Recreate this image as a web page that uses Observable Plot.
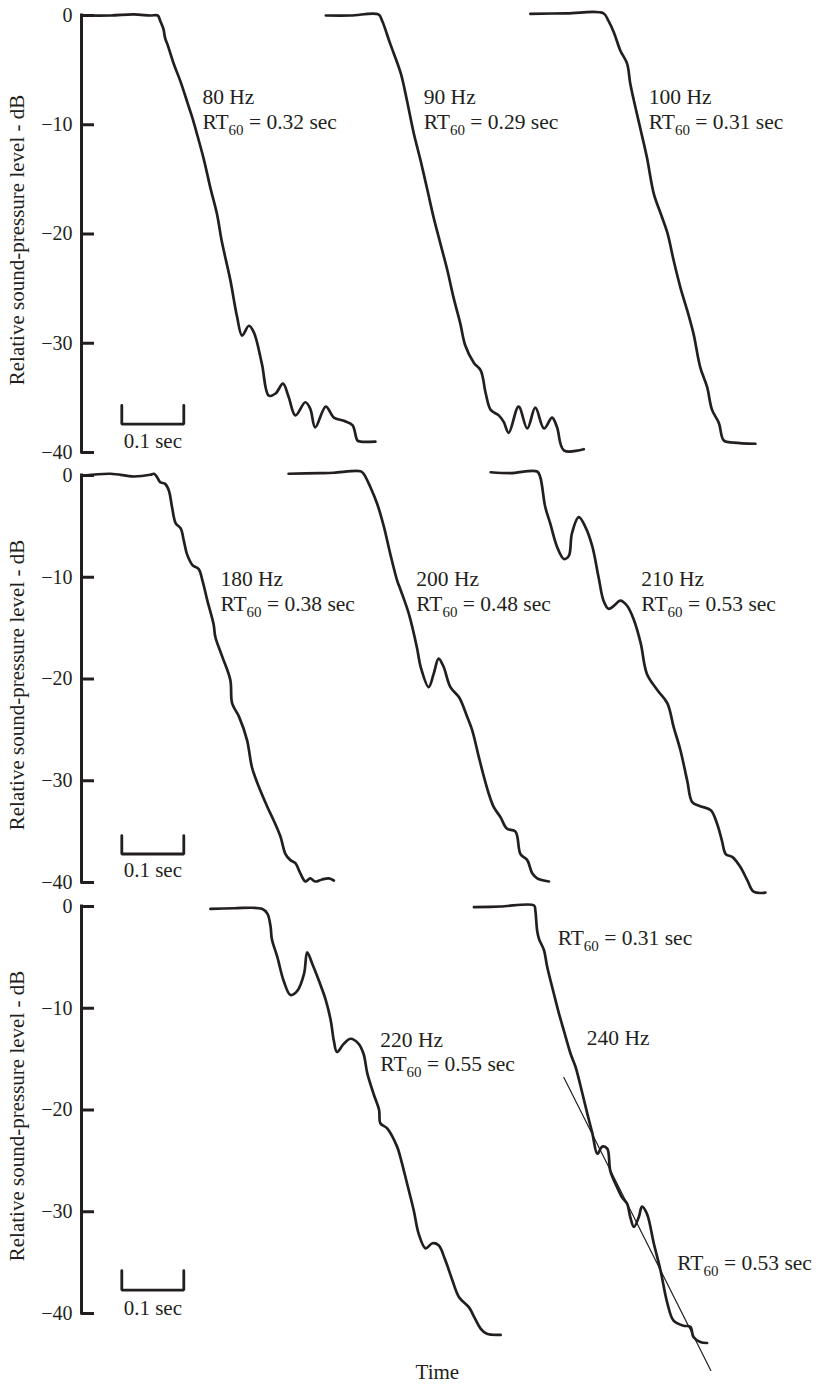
<!DOCTYPE html>
<html><head><meta charset="utf-8">
<script src="https://cdn.jsdelivr.net/npm/d3@7"></script>
<script src="https://cdn.jsdelivr.net/npm/@observablehq/plot@0.6"></script>
<style>
body{margin:0;background:#fff;}
#chart svg{display:block;}
</style></head><body><div id="chart"></div>
<script>
// ---- data (time in seconds, level in dB) ----
const yTicks = [0, -10, -20, -30, -40];
const yLabel = "Relative sound-pressure level - dB";
const xLabel = "Time";
const scaleBarLabel = "0.1 sec";
const scaleBarSpan = [0.065, 0.165];

const hz80 = [[0.003,0],[0.047,0],[0.084,0.1],[0.111,0],[0.123,0],[0.127,-0.5],[0.132,-1.2],[0.135,-2.1],[0.139,-2.7],[0.148,-4.3],[0.160,-6.1],[0.171,-8.0],[0.179,-9.4],[0.187,-11.0],[0.197,-13.1],[0.208,-15.8],[0.219,-18.3],[0.226,-20.6],[0.240,-24.2],[0.251,-27.6],[0.259,-29.3],[0.270,-28.4],[0.278,-29.0],[0.291,-31.9],[0.302,-34.8],[0.313,-34.6],[0.325,-33.7],[0.334,-34.9],[0.345,-36.6],[0.361,-35.4],[0.369,-36.0],[0.377,-37.7],[0.394,-35.8],[0.407,-36.8],[0.423,-37.1],[0.437,-37.5],[0.445,-38.9],[0.450,-39.0],[0.474,-39.0]];
const hz90 = [[0.394,0],[0.434,0],[0.479,0.1],[0.485,-0.5],[0.498,-2.6],[0.515,-5.3],[0.525,-7.8],[0.536,-10.8],[0.547,-13.3],[0.558,-16.0],[0.568,-18.5],[0.579,-20.9],[0.590,-23.3],[0.600,-25.8],[0.611,-28.2],[0.619,-30.2],[0.633,-31.8],[0.644,-32.5],[0.652,-34.6],[0.660,-36.1],[0.673,-36.6],[0.681,-37.2],[0.689,-38.2],[0.705,-35.8],[0.719,-37.8],[0.732,-35.9],[0.746,-37.8],[0.759,-36.8],[0.767,-37.7],[0.778,-39.8],[0.810,-39.7]];
const hz100 = [[0.724,0.15],[0.783,0.2],[0.842,0.2],[0.850,-0.5],[0.859,-1.6],[0.869,-3.2],[0.880,-4.4],[0.885,-6.2],[0.891,-7.8],[0.902,-10.5],[0.912,-13.0],[0.923,-16.3],[0.934,-18.1],[0.945,-19.9],[0.955,-22.4],[0.966,-24.9],[0.977,-27.0],[0.987,-29.1],[0.998,-32.2],[1.009,-34.0],[1.017,-36.1],[1.028,-37.3],[1.036,-38.9],[1.052,-39.1],[1.087,-39.2]];
const hz180 = [[0.004,0],[0.047,0.17],[0.084,-0.1],[0.111,0.07],[0.117,0.17],[0.122,-0.17],[0.127,-0.66],[0.135,-0.82],[0.141,-1.5],[0.146,-3.1],[0.152,-4.7],[0.160,-5.2],[0.165,-6.4],[0.170,-7.7],[0.179,-8.8],[0.189,-9.2],[0.195,-10.3],[0.203,-12.3],[0.213,-14.6],[0.216,-15.9],[0.227,-17.8],[0.240,-20.1],[0.243,-22.4],[0.254,-23.7],[0.267,-26.0],[0.275,-28.7],[0.286,-30.6],[0.300,-32.6],[0.310,-33.9],[0.321,-35.5],[0.329,-37.2],[0.337,-37.8],[0.345,-38.1],[0.353,-39.1],[0.361,-39.9],[0.369,-39.6],[0.377,-39.9],[0.388,-39.7],[0.399,-39.6],[0.407,-39.8]];
const hz200 = [[0.334,0.17],[0.385,0.23],[0.407,0.27],[0.450,0.42],[0.455,0.17],[0.466,-1.15],[0.477,-2.8],[0.488,-5.1],[0.498,-7.7],[0.509,-10.3],[0.515,-11.3],[0.528,-13.6],[0.541,-16.9],[0.547,-18.8],[0.560,-20.8],[0.568,-19.5],[0.576,-18.0],[0.584,-18.8],[0.595,-20.8],[0.609,-21.8],[0.622,-23.7],[0.630,-25.0],[0.641,-27.7],[0.649,-29.6],[0.657,-31.3],[0.665,-32.6],[0.676,-33.6],[0.686,-34.7],[0.700,-35.0],[0.708,-37.2],[0.719,-37.8],[0.727,-39.1],[0.735,-39.6],[0.754,-39.9]];
const hz210 = [[0.660,0.32],[0.692,0.23],[0.735,0.39],[0.740,-0.17],[0.748,-3.1],[0.756,-4.7],[0.767,-7.0],[0.778,-8.2],[0.786,-7.9],[0.791,-5.7],[0.802,-4.1],[0.813,-5.1],[0.824,-7.0],[0.834,-10.0],[0.842,-12.3],[0.850,-13.1],[0.859,-12.8],[0.869,-12.3],[0.880,-12.8],[0.891,-14.2],[0.902,-16.5],[0.912,-19.5],[0.929,-21.1],[0.945,-22.4],[0.955,-24.7],[0.966,-27.0],[0.977,-30.0],[0.985,-32.1],[0.998,-32.5],[1.015,-32.9],[1.025,-34.2],[1.033,-35.9],[1.039,-37.2],[1.050,-37.5],[1.063,-38.5],[1.074,-39.8],[1.084,-40.9],[1.103,-41.0]];
const hz220 = [[0.208,-0.23],[0.246,-0.17],[0.291,-0.23],[0.300,-0.72],[0.305,-2.0],[0.307,-3.2],[0.316,-5.0],[0.326,-7.3],[0.337,-8.7],[0.348,-8.3],[0.359,-6.6],[0.364,-4.5],[0.372,-5.6],[0.383,-7.3],[0.394,-9.2],[0.402,-11.2],[0.407,-13.2],[0.412,-14.3],[0.423,-13.5],[0.434,-13.0],[0.447,-13.5],[0.455,-14.5],[0.461,-16.4],[0.471,-18.4],[0.480,-20.0],[0.482,-21.3],[0.493,-21.8],[0.509,-23.6],[0.515,-24.8],[0.525,-27.2],[0.536,-29.9],[0.544,-32.2],[0.555,-33.6],[0.566,-33.1],[0.576,-33.3],[0.587,-34.8],[0.598,-36.7],[0.609,-38.4],[0.625,-39.4],[0.633,-40.3],[0.644,-41.5],[0.654,-42.0],[0.676,-42.1]];
const hz240 = [[0.633,-0.07],[0.676,0],[0.730,0.1],[0.732,-0.4],[0.735,-2.4],[0.738,-3.2],[0.746,-4.3],[0.751,-5.9],[0.762,-8.6],[0.770,-10.5],[0.778,-12.2],[0.789,-14.5],[0.797,-15.8],[0.808,-18.4],[0.816,-20.4],[0.824,-22.3],[0.832,-24.3],[0.840,-23.6],[0.848,-23.8],[0.853,-26.0],[0.864,-27.6],[0.872,-28.6],[0.880,-29.2],[0.885,-30.5],[0.891,-31.5],[0.899,-30.5],[0.904,-29.5],[0.912,-30.2],[0.923,-33.1],[0.934,-35.8],[0.945,-39.0],[0.955,-40.7],[0.971,-41.2],[0.982,-41.3],[0.987,-42.3],[0.998,-42.8],[1.009,-42.9]];
const fit240 = [[0.778,-16.8],[1.015,-45.6]];

const curves = [
  {name: "80 Hz", panel: 0, pts: hz80},
  {name: "90 Hz", panel: 0, pts: hz90},
  {name: "100 Hz", panel: 0, pts: hz100},
  {name: "180 Hz", panel: 1, pts: hz180},
  {name: "200 Hz", panel: 1, pts: hz200},
  {name: "210 Hz", panel: 1, pts: hz210},
  {name: "220 Hz", panel: 2, pts: hz220},
  {name: "240 Hz", panel: 2, pts: hz240}
];

const labels = [
  {panel: 0, t: 0.195, db: -8.14, text: "80 Hz"},
  {panel: 0, t: 0.195, db: -10.43, text: "RT60 = 0.32 sec"},
  {panel: 0, t: 0.552, db: -8.14, text: "90 Hz"},
  {panel: 0, t: 0.552, db: -10.43, text: "RT60 = 0.29 sec"},
  {panel: 0, t: 0.915, db: -8.14, text: "100 Hz"},
  {panel: 0, t: 0.915, db: -10.43, text: "RT60 = 0.31 sec"},
  {panel: 1, t: 0.224, db: -10.87, text: "180 Hz"},
  {panel: 1, t: 0.224, db: -13.33, text: "RT60 = 0.38 sec"},
  {panel: 1, t: 0.540, db: -10.87, text: "200 Hz"},
  {panel: 1, t: 0.540, db: -13.33, text: "RT60 = 0.48 sec"},
  {panel: 1, t: 0.903, db: -10.87, text: "210 Hz"},
  {panel: 1, t: 0.903, db: -13.33, text: "RT60 = 0.53 sec"},
  {panel: 2, t: 0.482, db: -13.82, text: "220 Hz"},
  {panel: 2, t: 0.482, db: -16.18, text: "RT60 = 0.55 sec"},
  {panel: 2, t: 0.768, db: -3.77, text: "RT60 = 0.31 sec"},
  {panel: 2, t: 0.815, db: -13.65, text: "240 Hz"},
  {panel: 2, t: 0.961, db: -35.69, text: "RT60 = 0.53 sec"}
];

// scale bar levels per panel: [top, bottom, label baseline] in dB
const scaleBarLevels = [[-35.7, -37.4, -39.6], [-35.4, -37.2, -39.5], [-35.8, -37.7, -40.1]];

// ---- layout ----
const layout = [
  {height: 462, marginTop: 15, marginBottom: 10},
  {height: 433, marginTop: 13, marginBottom: 13},
  {height: 489, marginTop: 11, marginBottom: 71}
];
const ink = "#231f20";
const font = "'Liberation Serif', 'Times New Roman', serif";

function panel(i) {
  const L = layout[i];
  const rows = curves.filter(c => c.panel === i)
    .flatMap(c => c.pts.map(([t, db]) => ({name: c.name, t, db})));
  const [bTop, bBot, bLab] = scaleBarLevels[i];
  const bar = [
    {t: scaleBarSpan[0], db: bTop}, {t: scaleBarSpan[0], db: bBot},
    {t: scaleBarSpan[1], db: bBot}, {t: scaleBarSpan[1], db: bTop}
  ];
  const marks = [
    Plot.ruleX([0], {y1: -40, y2: 0, stroke: ink, strokeWidth: 3, strokeLinecap: "square"}),
    Plot.ruleY(yTicks, {y: d => d, x1: 0, x2: 0.021, stroke: ink, strokeWidth: 3}),
    Plot.axisY({ticks: yTicks, tickSize: 0, tickPadding: 9, label: null, fontSize: 20,
      tickFormat: d => d === 0 ? "0" : "\u2212" + Math.abs(d), fill: ink}),
    Plot.text([yLabel], {frameAnchor: "left", textAnchor: "middle", lineAnchor: "middle",
      rotate: -90, dx: -64, dy: 6, fontSize: 21, fill: ink}),
    Plot.line(rows, {x: "t", y: "db", z: "name", stroke: ink, strokeWidth: 2.7,
      curve: "catmull-rom", strokeLinejoin: "round", strokeLinecap: "round"}),
    Plot.line(bar, {x: "t", y: "db", stroke: ink, strokeWidth: 2.8, strokeLinejoin: "miter"}),
    Plot.text([{t: (scaleBarSpan[0] + scaleBarSpan[1]) / 2, db: bLab}],
      {x: "t", y: "db", text: () => scaleBarLabel, textAnchor: "middle", lineAnchor: "bottom", fontSize: 21, fill: ink}),
    Plot.text(labels.filter(d => d.panel === i),
      {x: "t", y: "db", text: "text", textAnchor: "start", lineAnchor: "bottom", fontSize: 21.5, fill: ink})
  ];
  if (i === 2) {
    marks.push(Plot.line(fit240.map(([t, db]) => ({t, db})), {x: "t", y: "db", stroke: ink, strokeWidth: 1.2}));
    marks.push(Plot.text([{t: 0.574}], {x: "t", frameAnchor: "bottom", dy: 65, lineAnchor: "bottom",
      text: () => xLabel, fontSize: 21, fill: ink}));
  }
  const svg = Plot.plot({
    width: 820, height: L.height,
    marginLeft: 81, marginRight: 0, marginTop: L.marginTop, marginBottom: L.marginBottom,
    x: {domain: [0, 739 / 620], axis: null},
    y: {domain: [-40, 0]},
    style: {fontFamily: font, background: "white", color: ink},
    marks
  });
  // subscript "60" in RT60
  d3.select(svg).selectAll("text").each(function () {
    const s = this.textContent;
    const m = /^RT60(.*)$/.exec(s);
    if (!m || this.children.length) return;
    const el = d3.select(this);
    el.text(null);
    el.append("tspan").text("RT");
    el.append("tspan").attr("font-size", 15).attr("dy", 6).text("60");
    el.append("tspan").attr("dy", -6).text(m[1]);
  });
  return svg;
}

const root = document.getElementById("chart");
for (let i = 0; i < 3; i++) root.appendChild(panel(i));
</script>
</body></html>
